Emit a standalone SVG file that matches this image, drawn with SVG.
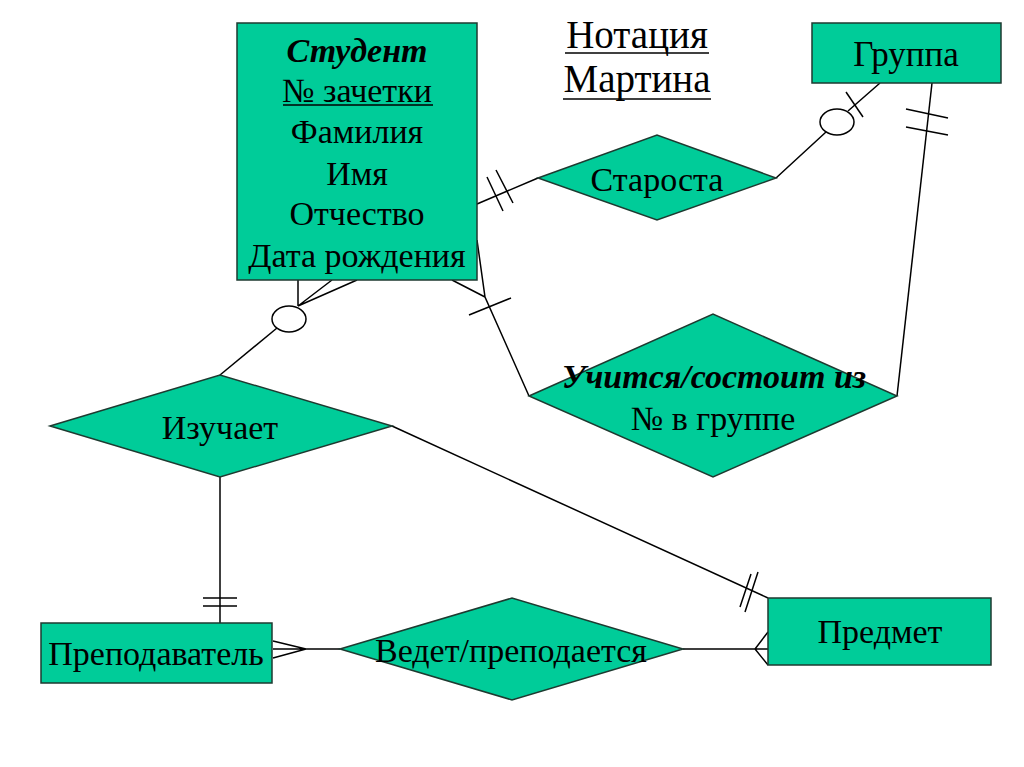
<svg xmlns="http://www.w3.org/2000/svg" width="1024" height="767" viewBox="0 0 1024 767">
<style>
.shape{fill:#00cc99;stroke:#1e3a30;stroke-width:1.5}
.ln{stroke:#000;stroke-width:1.5;fill:none}
.circ{fill:#fff;stroke:#000;stroke-width:1.5}
text{font-family:"Liberation Serif","Times New Roman",serif;font-size:34px;fill:#000;text-anchor:middle}
.bi{font-weight:bold;font-style:italic}
.ttl{font-size:39px}
</style>
<rect width="1024" height="767" fill="#fff"/>
<g id="connectors">
  <path class="ln" d="M477,204 L538,178"/>
  <path class="ln" d="M487,177 L503,211 M496,170 L513,203"/>
  <path class="ln" d="M776,178 L826,132 M848,111 L880,83"/>
  <path class="ln" d="M846,92 L863,117"/>
  <ellipse class="circ" cx="837" cy="122" rx="17" ry="13"/>
  <path class="ln" d="M932,83 L897,396"/>
  <path class="ln" d="M906,109 L948,118 M906,127 L948,135"/>
  <path class="ln" d="M452,280 L485,297 M477,240 L485,297 L529,396"/>
  <path class="ln" d="M469,315 L511,298"/>
  <path class="ln" d="M298,280 L298,306 M332,280 L298,306 M357,280 L298,306"/>
  <path class="ln" d="M277,328 L220,375"/>
  <ellipse class="circ" cx="289" cy="319" rx="17" ry="13"/>
  <path class="ln" d="M220,477 L220,623"/>
  <path class="ln" d="M203,598 L237,598 M203,606 L237,606"/>
  <path class="ln" d="M392,426 L768,598"/>
  <path class="ln" d="M740,607 L751,574 M745,612 L758,572"/>
  <path class="ln" d="M273,641 L306,649 L273,658 M273,649 L340,649"/>
  <path class="ln" d="M683,649 L768,649 M768,632 L755,649 L768,665"/>
</g>
<g id="title">
  <text class="ttl" x="637" y="48">Нотация</text>
  <path class="ln" d="M565,53 L709,53"/>
  <text class="ttl" x="637" y="92">Мартина</text>
  <path class="ln" d="M563,99 L711,99"/>
</g>
<g id="student">
  <rect class="shape" x="237" y="23" width="240" height="257"/>
  <text x="357" y="62" class="bi">Студент</text>
  <text x="357" y="102">№ зачетки</text>
  <path class="ln" d="M283,105 L433,105"/>
  <text x="357" y="143">Фамилия</text>
  <text x="357" y="185">Имя</text>
  <text x="357" y="225">Отчество</text>
  <text x="357" y="267">Дата рождения</text>
</g>
<g id="gruppa">
  <rect class="shape" x="812" y="23" width="189" height="60"/>
  <text x="906" y="66" style="font-size:35px">Группа</text>
</g>
<g id="starosta">
  <polygon class="shape" points="538,178 657,135 776,178 657,220"/>
  <text x="657" y="191">Староста</text>
</g>
<g id="uchitsya">
  <polygon class="shape" points="529,396 713,314 897,396 713,477"/>
  <text x="714" y="388" class="bi">Учится/состоит из</text>
  <text x="713" y="430">№ в группе</text>
</g>
<g id="izuchaet">
  <polygon class="shape" points="50,426 220,375 392,426 220,477"/>
  <text x="220" y="439">Изучает</text>
</g>
<g id="prepodavatel">
  <rect class="shape" x="41" y="623" width="231" height="60"/>
  <text x="156" y="665">Преподаватель</text>
</g>
<g id="vedet">
  <polygon class="shape" points="340,649 512,598 683,649 512,700"/>
  <text x="511" y="662">Ведет/преподается</text>
</g>
<g id="predmet">
  <rect class="shape" x="768" y="598" width="223" height="67"/>
  <text x="880" y="643">Предмет</text>
</g>
</svg>
